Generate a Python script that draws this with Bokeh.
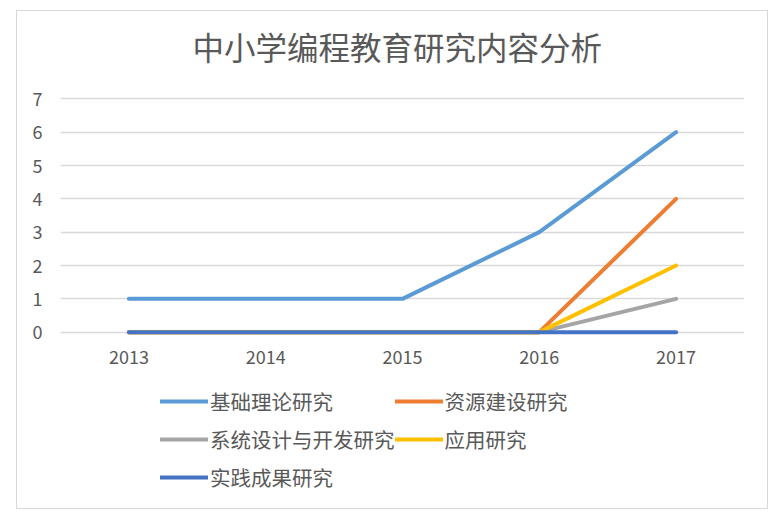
from bokeh.plotting import figure
from bokeh.models import ColumnDataSource, FixedTicker, Legend, LegendItem
from bokeh.embed import file_html
from bokeh.resources import INLINE

years = ["2013", "2014", "2015", "2016", "2017"]
jichu = [1, 1, 1, 3, 6]
ziyuan = [0, 0, 0, 0, 4]
xitong = [0, 0, 0, 0, 1]
yingyong = [0, 0, 0, 0, 2]
shijian = [0, 0, 0, 0, 0]
names = ["基础理论研究", "资源建设研究", "系统设计与开发研究", "应用研究", "实践成果研究"]
colors = ["#5B9BD5", "#ED7D31", "#A5A5A5", "#FFC000", "#4472C4"]
yticks = [0, 1, 2, 3, 4, 5, 6, 7]

CJK = "Noto Sans CJK SC"
GRAY = "#595959"

p = figure(width=752, height=499, x_range=years, y_range=(-5.23, 7.1),
           output_backend="svg", toolbar_location=None,
           title="中小学编程教育研究内容分析",
           min_border_left=43, min_border_right=25, min_border_top=84, min_border_bottom=4)
p.styles = {"border": "1px solid #d9d9d9", "margin-left": "16px", "margin-top": "10px"}
p.outline_line_color = None
p.background_fill_color = "white"
p.border_fill_color = "white"

p.title.text_font = CJK
p.title.text_font_size = "31.5px"
p.title.text_font_style = "normal"
p.title.text_color = GRAY
p.title.align = "left"
p.title.offset = 132
try:
    p.title.padding = dict(left=0, right=0, top=0, bottom=27)
    p.title.standoff = 0
except Exception:
    p.title.standoff = 34

p.x_range.range_padding = 0
p.xgrid.grid_line_color = None
p.ygrid.grid_line_color = "#d9d9d9"
p.ygrid.grid_line_width = 1.5
p.yaxis.ticker = FixedTicker(ticks=yticks)
p.xaxis.fixed_location = 0

for ax in (p.xaxis[0], p.yaxis[0]):
    ax.axis_line_color = None
    ax.major_tick_line_color = None
    ax.minor_tick_line_color = None
    ax.major_label_text_font = CJK
    ax.major_label_text_font_size = "18px"
    ax.major_label_text_color = GRAY
p.yaxis.major_label_standoff = 12
p.xaxis.major_label_standoff = 12

series = [jichu, ziyuan, xitong, yingyong, shijian]
items = []
for name, vals, c in zip(names, series, colors):
    src = ColumnDataSource(dict(x=years, y=vals))
    r = p.line("x", "y", source=src, line_color=c, line_width=4,
               line_cap="round", line_join="round")
    items.append(LegendItem(label=name, renderers=[r]))

leg = Legend(items=items, location=(100, 10), orientation="horizontal", ncols=2,
             glyph_width=48, glyph_height=38, label_height=38, spacing=0,
             label_standoff=2, padding=0, margin=0,
             label_text_font=CJK, label_text_font_size="20.5px", label_text_color=GRAY,
             background_fill_alpha=0, border_line_color=None)
p.add_layout(leg, "center")

open("out.html", "w").write(file_html(p, INLINE))
